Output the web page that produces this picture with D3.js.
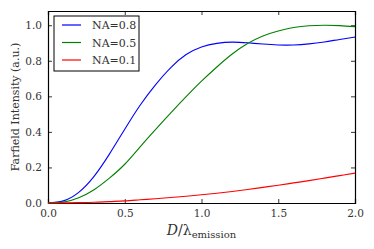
<!DOCTYPE html>
<html>
<head>
<meta charset="utf-8">
<script src="https://cdn.jsdelivr.net/npm/d3@7"></script>
<style>
  body { margin: 0; background: #fff; }
</style>
</head>
<body>
<svg id="chart" width="374" height="249"></svg>
<script>
// D / lambda_emission sample points
const dRatio = [0, 0.1, 0.2, 0.3, 0.4, 0.5, 0.6, 0.7, 0.8, 0.9, 1.0,
                1.1, 1.2, 1.3, 1.4, 1.5, 1.6, 1.7, 1.8, 1.9, 2.0];

const na08 = [0, 0.012, 0.06, 0.15, 0.275, 0.415, 0.55, 0.665, 0.762, 0.835, 0.878,
              0.898, 0.905, 0.901, 0.894, 0.889, 0.889, 0.895, 0.906, 0.92, 0.933];
const na05 = [0, 0.005, 0.03, 0.075, 0.14, 0.218, 0.316, 0.413, 0.507, 0.598, 0.685,
              0.765, 0.838, 0.897, 0.94, 0.968, 0.987, 0.997, 1.0, 0.998, 0.992];
const na01 = [0, 0.0005, 0.002, 0.004, 0.008, 0.012, 0.018, 0.024, 0.031, 0.038, 0.046,
              0.055, 0.065, 0.076, 0.088, 0.1, 0.113, 0.126, 0.14, 0.154, 0.168];

const seriesNames = ["NA=0.8", "NA=0.5", "NA=0.1"];
const seriesColors = ["#0000ff", "#008000", "#ff0000"];
const xTicks = [0, 0.5, 1.0, 1.5, 2.0];
const yTicks = [0, 0.2, 0.4, 0.6, 0.8, 1.0];

const serif = "DejaVu Serif";
const margin = {top: 11, right: 19, bottom: 46, left: 48};
const width = 374 - margin.left - margin.right;
const height = 249 - margin.top - margin.bottom;

const svg = d3.select("#chart");
const g = svg.append("g")
    .attr("transform", `translate(${margin.left},${margin.top})`);

const x = d3.scaleLinear().domain([0, 2]).range([0, width]);
const y = d3.scaleLinear().domain([0, 1.08]).range([height, 0]);

// axes with inward ticks on all sides
const fmt = d3.format(".1f");
const axBottom = g.append("g")
    .attr("transform", `translate(0,${height})`)
    .call(d3.axisBottom(x).tickValues(xTicks).tickFormat(fmt).tickSize(-4).tickPadding(7));
const axTop = g.append("g")
    .call(d3.axisTop(x).tickValues(xTicks).tickFormat("").tickSize(-4));
const axLeft = g.append("g")
    .call(d3.axisLeft(y).tickValues(yTicks).tickFormat(fmt).tickSize(-4).tickPadding(6));
const axRight = g.append("g")
    .attr("transform", `translate(${width},0)`)
    .call(d3.axisRight(y).tickValues(yTicks).tickFormat("").tickSize(-4));

[axBottom, axTop, axLeft, axRight].forEach(a => {
    a.select(".domain").attr("stroke", "#000").attr("stroke-width", 1.2);
    a.selectAll(".tick line").attr("stroke", "#000").attr("stroke-width", 0.8);
    a.selectAll("text")
        .style("font-family", serif)
        .style("font-size", "10.5px")
        .attr("fill", "#333");
});

// curves
const allSeries = [na08, na05, na01];
const line = d3.line()
    .x(d => x(d[0]))
    .y(d => y(d[1]))
    .curve(d3.curveNatural);

allSeries.forEach((vals, i) => {
    g.append("path")
        .datum(dRatio.map((d, j) => [d, vals[j]]))
        .attr("fill", "none")
        .attr("stroke", seriesColors[i])
        .attr("stroke-width", 1.1)
        .attr("d", line);
});

// legend
const legend = g.append("g").attr("transform", "translate(6,5)");
legend.append("rect")
    .attr("width", 85)
    .attr("height", 55)
    .attr("fill", "#fff")
    .attr("stroke", "#000")
    .attr("stroke-width", 1);
seriesNames.forEach((name, i) => {
    const row = legend.append("g").attr("transform", `translate(0,${9 + i * 17.5})`);
    row.append("line")
        .attr("x1", 8).attr("x2", 27)
        .attr("y1", 0).attr("y2", 0)
        .attr("stroke", seriesColors[i])
        .attr("stroke-width", 1.2);
    row.append("text")
        .attr("x", 38)
        .attr("y", 4)
        .style("font-family", serif)
        .style("font-size", "11px")
        .attr("fill", "#333")
        .text(name);
});

// axis labels
svg.append("text")
    .attr("transform", `translate(19,${margin.top + height / 2}) rotate(-90)`)
    .attr("text-anchor", "middle")
    .style("font-family", serif)
    .style("font-size", "11px")
    .attr("fill", "#333")
    .text("Farfield Intensity (a.u.)");

const xl = svg.append("text")
    .attr("x", margin.left + width / 2)
    .attr("y", 235)
    .attr("text-anchor", "middle")
    .style("font-family", serif)
    .style("font-size", "14px")
    .attr("fill", "#333");
xl.append("tspan").style("font-style", "italic").text("D");
xl.append("tspan").text("/λ");
xl.append("tspan").attr("dy", 3).style("font-size", "10px").text("emission");
</script>
</body>
</html>
